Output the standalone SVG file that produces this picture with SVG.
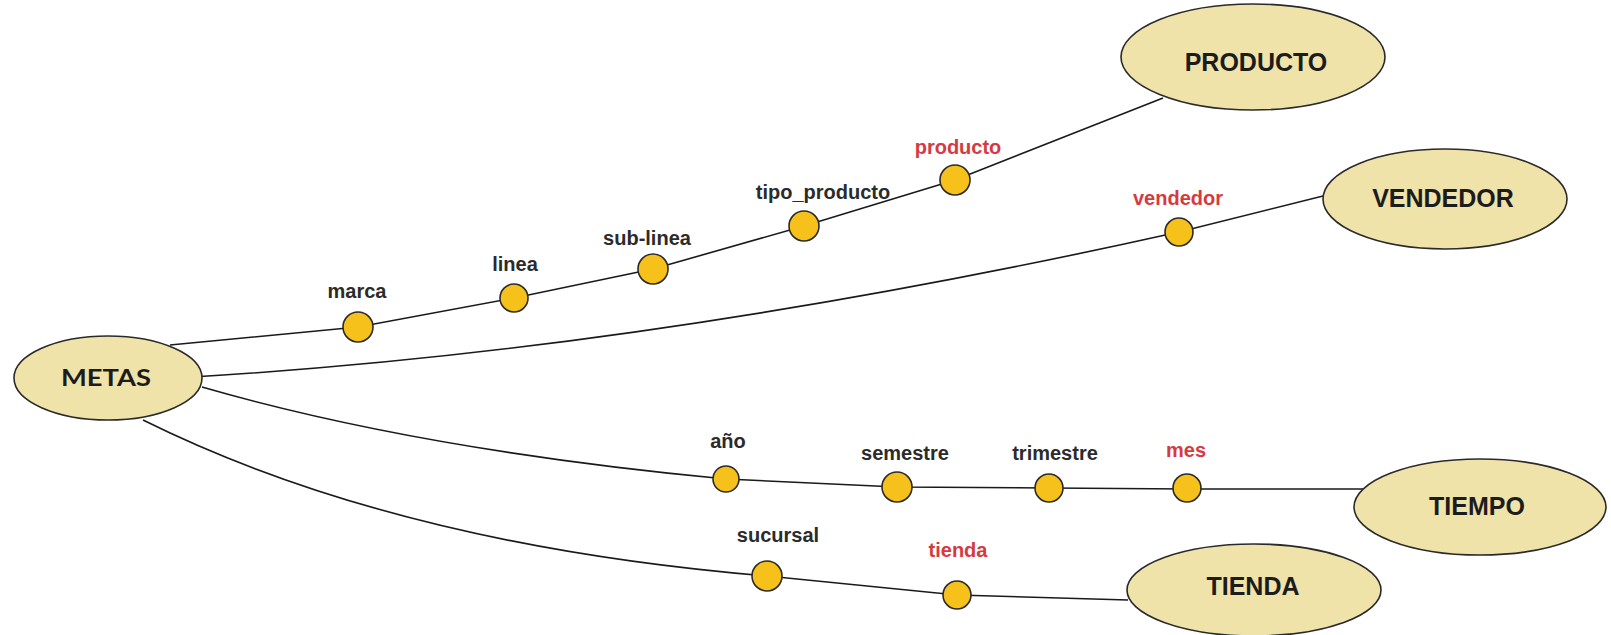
<svg xmlns="http://www.w3.org/2000/svg" width="1611" height="635" viewBox="0 0 1611 635">
  <style>
    .entity { fill: #EFE3AA; stroke: #2a2a2a; stroke-width: 1.6; }
    .entity-label { font-family: "Liberation Sans", Arial, sans-serif; font-weight: bold; font-size: 25px; fill: #1c1c1c; text-anchor: middle; }
    .fact-label { font-family: Lato, "Liberation Sans", sans-serif; font-weight: bold; font-size: 23px; fill: #1c1c1c; text-anchor: middle; }
    .level { fill: #F6C11A; stroke: #2a2a2a; stroke-width: 1.6; }
    .level-label { font-family: "Liberation Sans", Arial, sans-serif; font-weight: bold; font-size: 20px; fill: #2b2b2b; text-anchor: middle; }
    .key { fill: #D63A40; }
    .link { fill: none; stroke: #1a1a1a; stroke-width: 1.6; }
  </style>

  <rect width="1611" height="635" fill="#ffffff"/>

  <!-- hierarchy paths from the fact to each dimension -->
  <g id="connectors">
    <polyline class="link" points="170,345 358,327 514,298 653,269 804,226 955,180 1163,98"/>
    <path class="link" d="M192,377 Q650,350 1179,232 L1323,196"/>
    <path class="link" d="M202,387 Q420,450 726,479 L897,487 L1049,488 L1187,489 L1363,489"/>
    <path class="link" d="M143,420 Q395,545 767,576 L957,595 L1128,600"/>
  </g>

  <!-- fact -->
  <g id="node-metas">
    <ellipse class="entity" cx="108" cy="378" rx="94" ry="42"/>
    <text class="fact-label" x="106" y="386" textLength="90" lengthAdjust="spacingAndGlyphs">METAS</text>
  </g>

  <!-- dimensions -->
  <g id="node-producto">
    <ellipse class="entity" cx="1253" cy="57" rx="132" ry="53"/>
    <text class="entity-label" x="1256" y="71">PRODUCTO</text>
  </g>
  <g id="node-vendedor">
    <ellipse class="entity" cx="1445" cy="199" rx="122" ry="50"/>
    <text class="entity-label" x="1443" y="207">VENDEDOR</text>
  </g>
  <g id="node-tiempo">
    <ellipse class="entity" cx="1480" cy="507" rx="126" ry="48"/>
    <text class="entity-label" x="1477" y="515">TIEMPO</text>
  </g>
  <g id="node-tienda">
    <ellipse class="entity" cx="1254" cy="590" rx="127" ry="46"/>
    <text class="entity-label" x="1253" y="595">TIENDA</text>
  </g>

  <!-- producto hierarchy levels -->
  <g id="level-marca">
    <circle class="level" cx="358" cy="327" r="15"/>
    <text class="level-label" x="357" y="298">marca</text>
  </g>
  <g id="level-linea">
    <circle class="level" cx="514" cy="298" r="14"/>
    <text class="level-label" x="515" y="271">linea</text>
  </g>
  <g id="level-sub-linea">
    <circle class="level" cx="653" cy="269" r="15"/>
    <text class="level-label" x="647" y="245">sub-linea</text>
  </g>
  <g id="level-tipo-producto">
    <circle class="level" cx="804" cy="226" r="15"/>
    <text class="level-label" x="823" y="199">tipo_producto</text>
  </g>
  <g id="level-producto">
    <circle class="level" cx="955" cy="180" r="15"/>
    <text class="level-label key" x="958" y="154">producto</text>
  </g>

  <!-- vendedor level -->
  <g id="level-vendedor">
    <circle class="level" cx="1179" cy="232" r="14"/>
    <text class="level-label key" x="1178" y="205">vendedor</text>
  </g>

  <!-- tiempo hierarchy levels -->
  <g id="level-anio">
    <circle class="level" cx="726" cy="479" r="13"/>
    <text class="level-label" x="728" y="448">año</text>
  </g>
  <g id="level-semestre">
    <circle class="level" cx="897" cy="487" r="15"/>
    <text class="level-label" x="905" y="460">semestre</text>
  </g>
  <g id="level-trimestre">
    <circle class="level" cx="1049" cy="488" r="14"/>
    <text class="level-label" x="1055" y="460">trimestre</text>
  </g>
  <g id="level-mes">
    <circle class="level" cx="1187" cy="488" r="14"/>
    <text class="level-label key" x="1186" y="457">mes</text>
  </g>

  <!-- tienda hierarchy levels -->
  <g id="level-sucursal">
    <circle class="level" cx="767" cy="576" r="15"/>
    <text class="level-label" x="778" y="542">sucursal</text>
  </g>
  <g id="level-tienda">
    <circle class="level" cx="957" cy="595" r="14"/>
    <text class="level-label key" x="958" y="557">tienda</text>
  </g>
</svg>
